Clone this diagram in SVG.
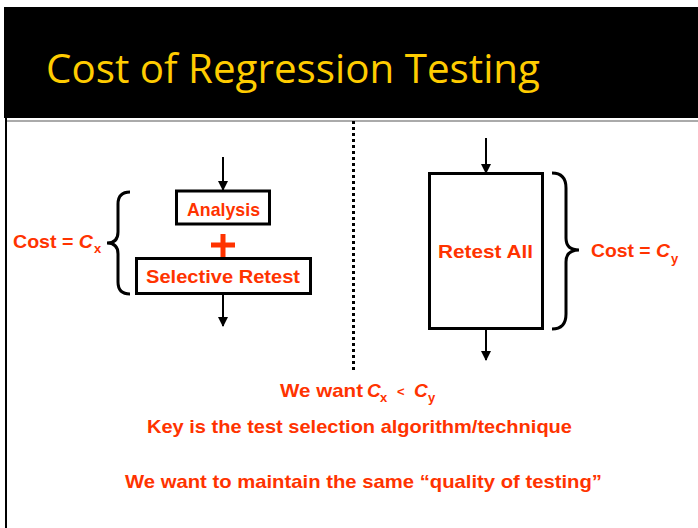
<svg xmlns="http://www.w3.org/2000/svg" width="698" height="528" viewBox="0 0 698 528">
<defs>
<marker id="ah" markerWidth="10" markerHeight="10" refX="9" refY="5" orient="auto" markerUnits="userSpaceOnUse">
<path d="M0,0 L10,5 L0,10 Z" fill="#000"/>
</marker>
<style>
.t{font-family:"Liberation Sans",Arial,sans-serif;font-weight:bold;font-size:19px;fill:#FF3300}
.i{font-style:italic}
.s{font-size:13px}
.box{fill:#fff;stroke:#000;stroke-width:3}
.arr{stroke:#000;stroke-width:2;fill:none;marker-end:url(#ah)}
.br{stroke:#000;stroke-width:3;fill:none}
</style>
</defs>
<rect width="698" height="528" fill="#fff"/>
<g id="header">
<rect x="4" y="7" width="694" height="111" fill="#000"/>
<text x="46" y="83" font-family="'Open Sans','Noto Sans',sans-serif" font-size="41" fill="#FFCC00" textLength="494" lengthAdjust="spacingAndGlyphs">Cost of Regression Testing</text>
<line x1="5" y1="121" x2="698" y2="121" stroke="#aaa" stroke-width="2"/>
<line x1="6" y1="118" x2="6" y2="528" stroke="#000" stroke-width="2"/>
<line x1="353.5" y1="121" x2="353.5" y2="372" stroke="#000" stroke-width="3" stroke-dasharray="3 3"/>
</g>
<g id="connectors">
<line class="arr" x1="223" y1="157" x2="223" y2="190"/>
<line class="arr" x1="223" y1="294" x2="223" y2="326"/>
<line class="arr" x1="486" y1="138" x2="486" y2="173"/>
<line class="arr" x1="486" y1="329" x2="486" y2="360"/>
<path class="br" d="M130,192 Q118,192 118,204 L118,232 Q118,243 107,243 Q118,243 118,254 L118,282 Q118,294 130,294"/>
<path class="br" d="M552,173 Q566,173 566,188 L566,238 Q566,250 579,250 Q566,250 566,262 L566,314 Q566,329 552,329"/>
</g>
<g id="analysis">
<rect class="box" x="176.5" y="191" width="93" height="33"/>
<text class="t" x="187" y="216" textLength="73" lengthAdjust="spacingAndGlyphs">Analysis</text>
</g>
<g id="plus">
<rect x="211" y="242.5" width="24" height="5" fill="#FF3300"/>
<rect x="220.5" y="234" width="5" height="23" fill="#FF3300"/>
</g>
<g id="selective-retest">
<rect class="box" x="136.5" y="258.5" width="174" height="35"/>
<text class="t" x="146" y="283" textLength="154" lengthAdjust="spacingAndGlyphs">Selective Retest</text>
</g>
<g id="retest-all">
<rect class="box" x="429.5" y="173.5" width="113" height="155"/>
<text class="t" x="438" y="258" textLength="95" lengthAdjust="spacingAndGlyphs">Retest All</text>
</g>
<g id="cost-x">
<text class="t" x="13" y="248" textLength="80" lengthAdjust="spacingAndGlyphs">Cost = <tspan class="i">C</tspan></text>
<text class="t s" x="94" y="253">x</text>
</g>
<g id="cost-y">
<text class="t" x="591" y="257" textLength="79" lengthAdjust="spacingAndGlyphs">Cost = <tspan class="i">C</tspan></text>
<text class="t s" x="671" y="263">y</text>
</g>
<g id="notes">
<text class="t" x="280" y="397" textLength="83" lengthAdjust="spacingAndGlyphs">We want</text>
<text class="t i" x="367" y="397">C</text>
<text class="t s" x="380" y="402">x</text>
<text class="t s" x="397" y="396">&lt;</text>
<text class="t i" x="414" y="397">C</text>
<text class="t s" x="428" y="402">y</text>
<text class="t" x="147" y="433" textLength="425" lengthAdjust="spacingAndGlyphs">Key is the test selection algorithm/technique</text>
<text class="t" x="125" y="488" textLength="477" lengthAdjust="spacingAndGlyphs">We want to maintain the same “quality of testing”</text>
</g>
</svg>
